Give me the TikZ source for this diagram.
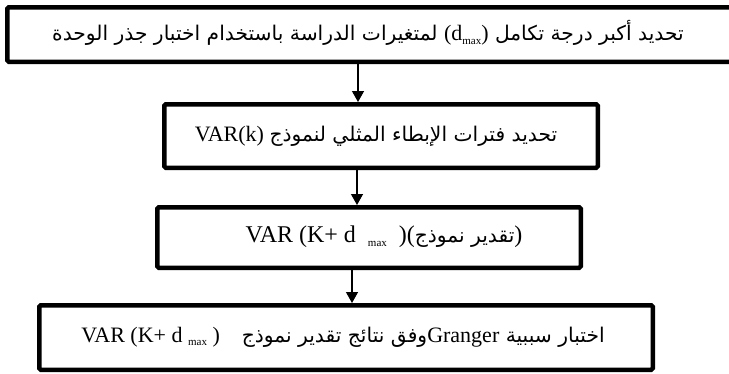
\documentclass[tikz,border=0pt]{standalone}
\usepackage{fontspec}
\setmainfont{Liberation Serif}
\newfontfamily\arabicfont[Script=Arabic,Scale=0.92]{DejaVu Sans}
\TeXXeTstate=1
\usetikzlibrary{arrows.meta}
\newcommand\mysub[1]{\raisebox{-3.5pt}{\fontsize{11}{11}\selectfont #1}}
\begin{document}
\begin{tikzpicture}[x=1pt,y=-1pt,
  box/.style={draw, line width=4.5pt, rounded corners=1.5pt, inner sep=0pt},
  txt/.style={inner sep=0pt, font=\fontsize{22}{26}\selectfont},
  arr/.style={line width=1.3pt, -{Triangle[length=11pt,width=12pt]}}]
\useasboundingbox (0,0) rectangle (729,373);
% boxes (outer size minus line width)
\node[box, minimum width=730.5pt, minimum height=54.5pt] (b1) at (372.5,34.5) {};
\node[box, minimum width=433.5pt, minimum height=63.5pt] (b2) at (381,136) {};
\node[box, minimum width=423.5pt, minimum height=60.5pt] (b3) at (369,237.5) {};
\node[box, minimum width=613.5pt, minimum height=64.5pt] (b4) at (346,337.5) {};
% texts
\node[txt] (t1) at (368,33) {\arabicfont\beginR تحديد أكبر درجة تكامل \beginL{\rmfamily (d\mysub{max})}\endL{} لمتغيرات الدراسة باستخدام اختبار جذر الوحدة\endR};
\node[txt] (t2) at (376,136) {VAR(k) {\arabicfont\beginR تحديد فترات الإبطاء المثلي لنموذج\endR}};
\node[txt] (t3) at (384,237) {{\fontsize{24}{28}\selectfont VAR (K+ d\hspace{12pt}\mysub{max}\hspace{12pt})(}{\arabicfont\beginR تقدير نموذج\endR}{\fontsize{24}{28}\selectfont )}};
\node[txt] (t4) at (343,337) {VAR (K+ d \mysub{max} )\quad{\arabicfont\beginR اختبار سببية \beginL{\rmfamily Granger}\endL وفق نتائج تقدير نموذج\endR}};
% arrows
\coordinate (x1) at (358,0);
\coordinate (x2) at (357,0);
\coordinate (x3) at (352,0);
\draw[arr] (b1.south -| x1) -- (b2.north -| x1);
\draw[arr] (b2.south -| x2) -- (b3.north -| x2);
\draw[arr] (b3.south -| x3) -- (b4.north -| x3);
\end{tikzpicture}
\end{document}
